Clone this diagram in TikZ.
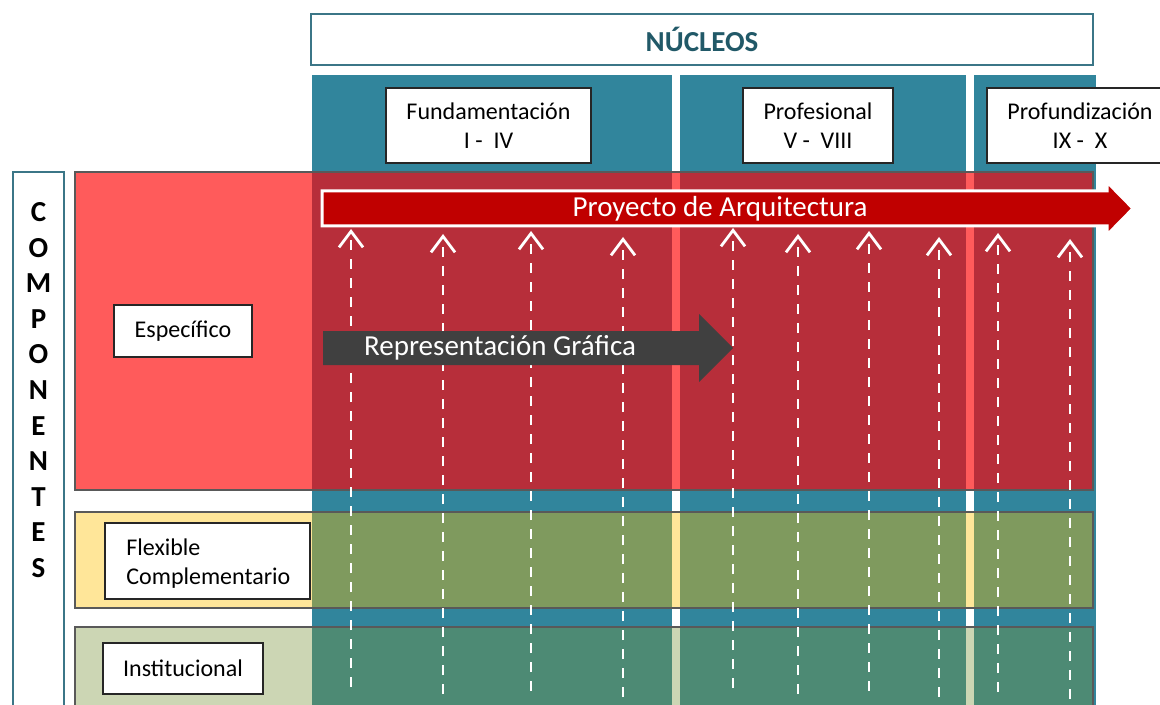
\documentclass[tikz,border=0pt]{standalone}
\usepackage{fontspec}
\setmainfont{Carlito}
\usetikzlibrary{arrows.meta}

\definecolor{colteal}{HTML}{31859C}
\definecolor{headteal}{HTML}{215968}
\definecolor{headedge}{HTML}{3B7687}
\definecolor{espLight}{HTML}{FF5B5B}
\definecolor{espDark}{HTML}{B72E3A}
\definecolor{flexLight}{HTML}{FFE699}
\definecolor{flexDark}{HTML}{7F9A5E}
\definecolor{instLight}{HTML}{CCD6B4}
\definecolor{instDark}{HTML}{4D8A74}
\definecolor{proyRed}{HTML}{C00000}
\definecolor{repGray}{HTML}{404040}
\definecolor{rowEdge}{HTML}{595959}

\begin{document}
\begin{tikzpicture}[x=0.5pt,y=-0.5pt,
  labelbox/.style={draw=black!85,fill=white,line width=0.7pt,inner sep=0pt,
    align=center,font=\fontsize{12}{14.5}\selectfont},
  complet/.style={inner sep=0pt,font=\fontsize{14.5}{16}\selectfont\bfseries},
  bigtext/.style={text=white,inner sep=0pt,font=\fontsize{14.5}{17}\selectfont},
  updash/.style={white,line width=1.4pt,dash pattern=on 5pt off 4.5pt,
    -{Straight Barb[length=8pt,width=12pt,line width=1.4pt]}}]

\useasboundingbox (0,0) rectangle (1160,705);

% Columns of the nucleos
\foreach \a/\b in {312/672, 680/966, 974/1096}
  \fill[colteal] (\a,75) rectangle (\b,715);

% Rows of the componentes
\foreach \t/\u/\lc/\dc in {172/490/espLight/espDark, 512/608/flexLight/flexDark, 627/715/instLight/instDark}
{
  \fill[\lc] (75,\t) rectangle (1093,\u);
  \foreach \a/\b in {312/672, 680/966, 974/1093}
    \fill[\dc] (\a,\t) rectangle (\b,\u);
  \draw[rowEdge,line width=0.75pt] (75,\t) rectangle (1093,\u);
}

% Header
\node[draw=headedge,fill=white,line width=0.6pt,minimum width=391pt,minimum height=25.5pt,
  text=headteal,font=\fontsize{14.5}{17}\selectfont\bfseries] (nucleos) at (702,39.5) {NÚCLEOS};

% Nucleo labels
\node[labelbox,minimum width=102.5pt,minimum height=37.5pt] (fund) at (488.5,125.5) {Fundamentación\\I -\ \ IV};
\node[labelbox,minimum width=75pt,minimum height=37.5pt] (prof) at (818,125.5) {Profesional\\V -\ \ VIII};
\node[labelbox,minimum width=93pt,minimum height=37.5pt] (pfz) at (1080,125.5) {Profundización\\IX -\ \ X};

% Componentes column
\draw[headedge,line width=0.6pt] (13,172) rectangle (64,715);
\foreach \l [count=\i] in {C,O,M,P,O,N,E,N,T,E,S}
  \node[complet] (c\i) at (38.5,176.4+35.6*\i) {\l};

% Componente labels
\node[labelbox,minimum width=69pt,minimum height=26pt] (esp) at (183,331) {Específico};
\node[labelbox,minimum width=102.5pt,minimum height=38pt] (flex) at (207.5,561) {};
\node[anchor=west,align=left,inner sep=0pt,font=\fontsize{12}{14.5}\selectfont] (flextxt) at (126,564) {Flexible\\Complementario};
\node[labelbox,minimum width=80pt,minimum height=25.5pt] (inst) at (183,668.5) {Institucional};

% Dashed arrows up to the proyecto
\foreach \x/\t/\b [count=\i] in {351/229/687, 443/234/694, 531/231/691, 623/237/697, 733/228/688,
  798/234/694, 869/231/691, 939/237/697, 998/233/692, 1070/239/699}
{
  \coordinate (lo\i) at (\x,\b);
  \coordinate (hi\i) at (\x,\t);
  \draw[updash] (lo\i) -- (hi\i);
}

% Representacion grafica arrow
\fill[repGray] (323,331) -- (699,331) -- (699,314) -- (733,348) -- (699,382) -- (699,365) -- (323,365) -- cycle;
\node[bigtext] (rep) at (500,348) {Representación Gráfica};

% Proyecto de arquitectura arrow
\filldraw[fill=proyRed,draw=white,line width=1.5pt] (322,191) -- (1107,191) -- (1107,182) -- (1133,208.5)
  -- (1107,235) -- (1107,226) -- (322,226) -- cycle;
\node[bigtext] (proy) at (720,208.5) {Proyecto de Arquitectura};

\end{tikzpicture}
\end{document}
